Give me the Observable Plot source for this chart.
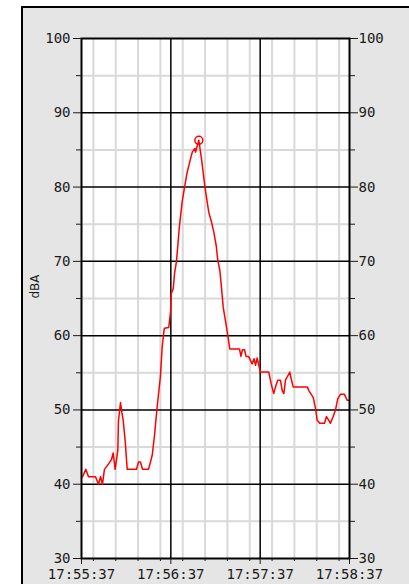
<!DOCTYPE html>
<html>
<head>
<meta charset="utf-8">
<script src="https://cdn.jsdelivr.net/npm/d3@7"></script>
<script src="https://cdn.jsdelivr.net/npm/@observablehq/plot@0.6"></script>
<style>
  html, body { margin: 0; padding: 0; background: #fff; overflow: hidden; }
  #panel { position: absolute; left: 21px; top: 6px; width: 420px; height: 620px;
           border: 2px solid #000; background: #e5e5e5; }
  #chart { position: absolute; left: 0; top: 0; }
</style>
</head>
<body>
<div id="panel"></div>
<div id="chart"></div>
<script>
// Seconds after 17:55:37 and sound level (dBA)
const seconds = [0.7, 2.9, 4.7, 9.4, 11.4, 12.8, 14.1, 15.4, 18.1, 20.1, 21.3, 22.6, 24.4, 24.8, 26.2, 27.1, 28, 29.3, 30.7,
  36.9, 38.3, 39.6, 41, 45, 47.5, 49, 50.8, 53, 54.2, 55.3, 55.7, 58.6, 59.8, 60.2, 61.6, 62.5, 63.8, 65.8, 67.6, 69.4,
  71, 73.2, 74.4, 76.1, 76.6, 78.8, 80.6, 82.8, 84.4, 85.5, 87.3, 88.9, 90.5, 91.5, 92.9, 94, 95.2, 96.7, 98.3, 99.6,
  106.1, 107.1, 108.1, 109.5, 110.5, 112.2, 114.6, 115.9, 116.9, 118, 119.1, 120.2, 125.8, 127.4, 129.1, 130.3, 131.8,
  133.6, 134.8, 135.9, 137, 138.6, 139.9, 140.8, 142.2, 151.6, 152.7, 155.6, 157.2, 158.3, 160, 163.2, 164.5, 166.1,
  167.2, 169, 170.6, 172.1, 173.9, 176.6, 178.4, 179.5];
const dba = [41, 42, 41, 41, 40, 41, 40, 42, 42.7, 43.3, 44.2, 42, 44.6, 48.5, 51, 49.7, 48.6, 45.9, 42,
  42, 43, 43, 42, 42, 43.9, 46.5, 50.4, 54.5, 58.5, 60.5, 61, 61.1, 63.2, 65.6, 66.3, 68.4, 70, 74.8, 78, 80.2,
  82, 83.8, 84.7, 85.2, 84.7, 86.3, 83.8, 80.2, 78, 76.6, 75.3, 73.9, 72.1, 70.2, 68.8, 66.5, 63.8, 62, 60, 58.2,
  58.2, 57.2, 58.1, 58.1, 57.2, 57.2, 56.2, 56.9, 56, 57, 56, 55.1, 55.1, 53.5, 52.2, 53.1, 54,
  54, 52.6, 52.2, 54, 54.6, 55.1, 54.2, 53.1, 53.1, 52.6, 51.7, 50.2, 48.6, 48.2, 48.2, 49.1, 48.6,
  48.2, 49.1, 50, 51.5, 52.1, 52.1, 51.3, 51.3];
const peakIndex = 45;

const xTickLabels = ["17:55:37", "17:56:37", "17:57:37", "17:58:37"];
const xMinorStepSeconds = 15;
const yMajorTicks = [30, 40, 50, 60, 70, 80, 90, 100];
const yMinorTicks = [35, 45, 55, 65, 75, 85, 95];
const yLabel = "dBA";

const parse = d3.utcParse("%Y-%m-%d %H:%M:%S");
const xMajor = xTickLabels.map(s => parse("2020-01-01 " + s));
const t0 = xMajor[0];
const t1 = xMajor[xMajor.length - 1];
const xMinor = d3.utcSecond.every(xMinorStepSeconds).range(t0, t1).filter(d => !xMajor.some(m => +m === +d));
const data = seconds.map((s, i) => ({time: new Date(+t0 + s * 1000), dba: dba[i]}));
const peak = [data[peakIndex]];
const fmt = d3.utcFormat("%H:%M:%S");

const chart = Plot.plot({
  width: 409,
  height: 584,
  marginLeft: 81,
  marginRight: 60,
  marginTop: 38,
  marginBottom: 26,
  x: {type: "utc", domain: [t0, t1], label: null},
  y: {domain: [30, 100], label: null},
  style: {background: "transparent", fontFamily: "DejaVu Sans Mono", fontSize: "14px", color: "#1a1a1a"},
  marks: [
    Plot.frame({fill: "white", stroke: null}),
    Plot.ruleX(xMinor, {stroke: "#d9d9d9", strokeWidth: 2}),
    Plot.ruleY(yMinorTicks, {stroke: "#d9d9d9", strokeWidth: 2}),
    Plot.ruleX(xMajor.slice(1, -1), {stroke: "#000", strokeWidth: 1.5}),
    Plot.ruleY(yMajorTicks.slice(1, -1), {stroke: "#000", strokeWidth: 1.5}),
    Plot.line(data, {x: "time", y: "dba", stroke: "#ff0000", strokeWidth: 1.5}),
    Plot.dot(peak, {x: "time", y: "dba", r: 4, stroke: "#ff0000", strokeWidth: 1.5, fill: "none"}),
    Plot.frame({stroke: "#000", strokeWidth: 2}),
    Plot.axisY(yMajorTicks, {anchor: "left", tickSize: 8, tickPadding: 3, label: null}),
    Plot.axisY(yMinorTicks, {anchor: "left", tickSize: 5, tickFormat: () => "", label: null}),
    Plot.axisY(yMajorTicks, {anchor: "right", tickSize: 8, tickPadding: 1, label: null}),
    Plot.axisY(yMinorTicks, {anchor: "right", tickSize: 5, tickFormat: () => "", label: null}),
    Plot.axisX(xMajor, {anchor: "bottom", tickSize: 6, tickPadding: 5, tickFormat: fmt, label: null}),
    Plot.axisX(xMinor, {anchor: "bottom", tickSize: 3, tickFormat: () => "", label: null}),
    Plot.text([yLabel], {frameAnchor: "left", dx: -46, rotate: -90, fontFamily: "DejaVu Sans", fontSize: 12, fill: "#1a1a1a"})
  ]
});
document.getElementById("chart").appendChild(chart);
</script>
</body>
</html>
